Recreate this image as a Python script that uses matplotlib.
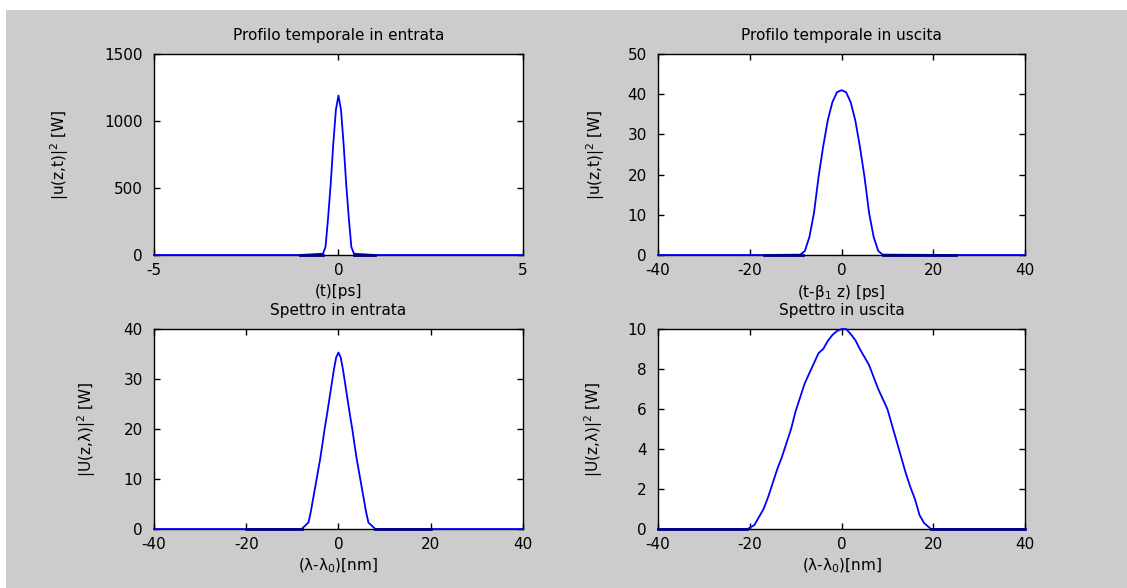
import matplotlib.pyplot as plt
from matplotlib.patches import Rectangle

plt.rcParams['font.family'] = 'DejaVu Sans'
plt.rcParams['mathtext.fontset'] = 'dejavusans'
plt.rcParams['axes.unicode_minus'] = False

# Profilo temporale in entrata
t_in = [-5, -1.05, -0.42, -0.35, -0.28, -0.21, -0.14, -0.07, 0, 0.07, 0.14, 0.21, 0.28, 0.35, 0.42, 1.0, 5]
p_in = [0, 0, 10, 60, 279, 530, 828, 1082, 1190, 1082, 828, 530, 279, 60, 10, 0, 0]
floor_t_in = [(-1.05, -0.42), (0.42, 1.0)]

# Profilo temporale in uscita
t_out = [-40, -17, -9, -8, -7, -6, -5, -4, -3, -2, -1, 0, 1, 2, 3, 4, 5, 6, 7, 8, 9, 25, 40]
p_out = [0, 0, 0.1, 1.0, 4.5, 10.5, 19.5, 27, 33.5, 38, 40.5, 41, 40.5, 38, 33.5, 27, 19.5, 10.5, 4.5, 1.0, 0.1, 0, 0]
floor_t_out = [(-17, -8.5), (9, 25)]

# Spettro in entrata
l_in = [-40, -20, -8, -6.5, -6, -5.5, -5, -4.5, -4, -3.5, -3, -2.5, -2, -1.5, -1, -0.5, 0,
        0.5, 1, 1.5, 2, 2.5, 3, 3.5, 4, 4.5, 5, 5.5, 6, 6.5, 8, 20, 40]
s_in = [0, 0, 0, 1.3, 3.4, 6, 8.6, 11.2, 13.8, 16.8, 20, 22.8, 25.8, 28.8, 31.8, 34.3, 35.3,
        34.3, 31.8, 28.8, 25.8, 22.8, 20, 16.8, 13.8, 11.2, 8.6, 6, 3.4, 1.3, 0, 0, 0]
floor_l_in = [(-20, -8), (8, 20)]

# Spettro in uscita
l_out = [-40, -20.5, -19, -18, -17, -16, -15, -14, -13, -12, -11, -10, -9, -8, -7, -6, -5, -4, -3, -2, -1, 0,
         1, 2, 3, 4, 5, 6, 7, 8, 9, 10, 11, 12, 13, 14, 15, 16, 17, 18, 19.5, 40]
s_out = [0, 0, 0.2, 0.6, 1.0, 1.6, 2.3, 3.0, 3.6, 4.3, 5.0, 5.9, 6.6, 7.3, 7.8, 8.3, 8.8, 9.0, 9.4, 9.7, 9.9, 10.0,
         10.0, 9.75, 9.45, 9.0, 8.6, 8.2, 7.6, 7.0, 6.5, 6.0, 5.2, 4.4, 3.6, 2.8, 2.1, 1.5, 0.7, 0.3, 0, 0]
floor_l_out = [(-40, -20.5), (19.5, 40)]

panels = [
    dict(pos=[0.1366, 0.5663, 0.3274, 0.3418], x=t_in, y=p_in, floor=floor_t_in,
         xlim=(-5, 5), xticks=[-5, 0, 5], ylim=(0, 1500), yticks=[0, 500, 1000, 1500],
         title='Profilo temporale in entrata', xlabel='(t)[ps]', ylabel='|u(z,t)|$^2$ [W]',
         ylx=-0.225, xlpad=4),
    dict(pos=[0.5839, 0.5663, 0.3256, 0.3418], x=t_out, y=p_out, floor=floor_t_out,
         xlim=(-40, 40), xticks=[-40, -20, 0, 20, 40], ylim=(0, 50), yticks=[0, 10, 20, 30, 40, 50],
         title='Profilo temporale in uscita', xlabel='(t-β$_1$ z) [ps]', ylabel='|u(z,t)|$^2$ [W]',
         ylx=-0.140, xlpad=3),
    dict(pos=[0.1366, 0.1003, 0.3274, 0.3401], x=l_in, y=s_in, floor=floor_l_in,
         xlim=(-40, 40), xticks=[-40, -20, 0, 20, 40], ylim=(0, 40), yticks=[0, 10, 20, 30, 40],
         title='Spettro in entrata', xlabel='(λ-λ$_0$)[nm]', ylabel='|U(z,λ)|$^2$ [W]',
         ylx=-0.152, xlpad=3),
    dict(pos=[0.5839, 0.1003, 0.3256, 0.3401], x=l_out, y=s_out, floor=floor_l_out,
         xlim=(-40, 40), xticks=[-40, -20, 0, 20, 40], ylim=(0, 10), yticks=[0, 2, 4, 6, 8, 10],
         title='Spettro in uscita', xlabel='(λ-λ$_0$)[nm]', ylabel='|U(z,λ)|$^2$ [W]',
         ylx=-0.144, xlpad=3),
]

fig = plt.figure(figsize=(11.27, 5.88), dpi=100, facecolor='white')
fig.patches.append(Rectangle((6 / 1127, 0), 1 - 6 / 1127, 1 - 10 / 588, transform=fig.transFigure,
                             facecolor='#cccccc', edgecolor='none', zorder=-10))

for p in panels:
    ax = fig.add_axes(p['pos'])
    ax.set_facecolor('white')
    ax.plot(p['x'], p['y'], color='#0000ff', lw=1.3, clip_on=False, zorder=3)
    for a, b in p['floor']:
        ax.plot([a, b], [0, 0], color='#000080', lw=2.0, clip_on=False, zorder=4)
    ax.set_xlim(*p['xlim'])
    ax.set_ylim(*p['ylim'])
    ax.set_xticks(p['xticks'])
    ax.set_yticks(p['yticks'])
    ax.tick_params(direction='in', length=4, width=1, top=True, right=True,
                   labelsize=11, colors='black')
    ax.tick_params(axis='y', pad=8)
    ax.tick_params(axis='x', pad=6)
    for s in ax.spines.values():
        s.set_linewidth(1.0)
        s.set_color('black')
    ax.set_title(p['title'], fontsize=11, pad=10)
    ax.set_xlabel(p['xlabel'], fontsize=11, labelpad=p['xlpad'])
    ax.set_ylabel(p['ylabel'], fontsize=11)
    ax.yaxis.set_label_coords(p['ylx'], 0.5)

fig.savefig('out.png', dpi=100, facecolor=fig.get_facecolor())
